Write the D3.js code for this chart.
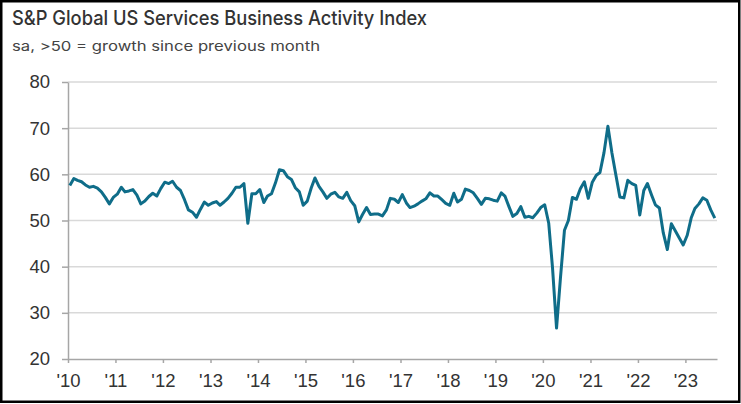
<!DOCTYPE html>
<html>
<head>
<meta charset="utf-8">
<script src="https://cdn.jsdelivr.net/npm/d3@7"></script>
<style>
  body { margin: 0; background: #fff; }
  svg { display: block; }
  .tick text { font-family: "Liberation Sans", Arial, sans-serif; font-size: 18.5px; fill: #333; }
</style>
</head>
<body>
<svg id="chart" width="741" height="404"></svg>
<script>
// monthly index values, Jan 2010 .. Aug 2023
const startYear = 2010;
const activity = [
  57.6, 59.1, 58.7, 58.4, 57.7, 57.2, 57.4, 57.0, 56.2, 55.0, 53.6, 55.0, // 2010
  55.7, 57.2, 56.2, 56.4, 56.7, 55.5, 53.6, 54.2, 55.2, 55.9, 55.3, 56.9, // 2011
  58.3, 58.0, 58.5, 57.2, 56.5, 54.5, 52.3, 51.8, 50.7, 52.4, 54.0, 53.3, // 2012
  53.8, 54.1, 53.3, 54.0, 54.8, 55.9, 57.2, 57.2, 58.0, 49.4, 55.8, 55.8, // 2013
  56.7, 53.9, 55.3, 55.8, 58.1, 61.0, 60.8, 59.5, 58.9, 57.1, 56.2, 53.3, // 2014
  54.2, 57.1, 59.2, 57.4, 56.2, 54.8, 55.7, 56.1, 55.1, 54.8, 56.1, 54.3, // 2015
  53.2, 49.7, 51.3, 52.8, 51.3, 51.4, 51.4, 51.0, 52.3, 54.8, 54.6, 53.9, // 2016
  55.6, 53.8, 52.8, 53.1, 53.6, 54.2, 54.7, 56.0, 55.3, 55.3, 54.5, 53.7, // 2017
  53.3, 55.9, 54.0, 54.6, 56.8, 56.5, 56.0, 54.8, 53.5, 54.8, 54.7, 54.4, // 2018
  54.2, 56.0, 55.3, 53.0, 50.9, 51.5, 53.0, 50.7, 50.9, 50.6, 51.6, 52.8, // 2019
  53.4, 49.4, 39.8, 26.7, 37.5, 47.9, 50.0, 55.0, 54.6, 56.9, 58.4, 54.8, // 2020
  58.3, 59.8, 60.4, 64.7, 70.4, 64.6, 59.9, 55.1, 54.9, 58.7, 58.0, 57.6, // 2021
  51.2, 56.5, 58.0, 55.6, 53.4, 52.7, 47.3, 43.7, 49.3, 47.8, 46.2, 44.7, // 2022
  46.8, 50.6, 52.6, 53.6, 54.9, 54.4, 52.3, 50.5                          // 2023
];
const yTicks = [20, 30, 40, 50, 60, 70, 80];
const xTickYears = [2010, 2011, 2012, 2013, 2014, 2015, 2016, 2017, 2018, 2019, 2020, 2021, 2022, 2023];
const xTickLabels = ["'10", "'11", "'12", "'13", "'14", "'15", "'16", "'17", "'18", "'19", "'20", "'21", "'22", "'23"];

const title = "S&P Global US Services Business Activity Index";
const subtitle = "sa, >50 = growth since previous month";

const svg = d3.select("#chart");

// frame
svg.append("rect")
    .attr("x", 1.25).attr("y", 1.25)
    .attr("width", 738).attr("height", 400.5)
    .attr("fill", "#fff")
    .attr("stroke", "#000")
    .attr("stroke-width", 2.5);

svg.append("text")
    .attr("x", 12).attr("y", 25)
    .attr("font-family", "Inter, 'Noto Sans', sans-serif")
    .attr("font-size", 20)
    .attr("font-weight", 500)
    .attr("fill", "#333")
    .attr("textLength", 415)
    .attr("lengthAdjust", "spacingAndGlyphs")
    .text(title);

svg.append("text")
    .attr("x", 12).attr("y", 51)
    .attr("font-family", "Inter, 'Noto Sans', sans-serif")
    .attr("font-size", 13.5)
    .attr("fill", "#444")
    .attr("textLength", 308)
    .attr("lengthAdjust", "spacingAndGlyphs")
    .text(subtitle);

var data = activity.map(function (v, i) {
    return { date: new Date(startYear, i, 15), value: v };
});

var x = d3.scaleTime()
        .domain([new Date(2010, 0, 1), new Date(2023, 8, 1)])
        .range([68, 717]),
    y = d3.scaleLinear()
        .domain([20, 80])
        .range([359, 82]);

// gridlines
svg.append("g")
    .selectAll("line")
    .data(yTicks.slice(1))
    .enter().append("line")
    .attr("x1", x.range()[0]).attr("x2", x.range()[1])
    .attr("y1", d => y(d)).attr("y2", d => y(d))
    .attr("stroke", "#d9d9d9")
    .attr("stroke-width", 1.5);

svg.append("g")
    .attr("transform", "translate(68,0)")
    .call(d3.axisLeft(y).tickValues(yTicks).tickSize(6).tickSizeOuter(0).tickPadding(12));

svg.append("g")
    .attr("transform", "translate(0,359)")
    .call(d3.axisBottom(x)
        .tickValues(xTickYears.map(yr => new Date(yr, 0, 1)))
        .tickSize(4).tickSizeOuter(0).tickPadding(11)
        .tickFormat((d, i) => xTickLabels[i]));

svg.selectAll(".domain, .tick line")
    .attr("stroke", "#a6a6a6")
    .attr("stroke-width", 1.5);

var line = d3.line()
    .x(d => x(d.date))
    .y(d => y(d.value));

svg.append("path")
    .datum(data)
    .attr("fill", "none")
    .attr("stroke", "#0f6d89")
    .attr("stroke-width", 3)
    .attr("stroke-linejoin", "round")
    .attr("d", line);
</script>
</body>
</html>
